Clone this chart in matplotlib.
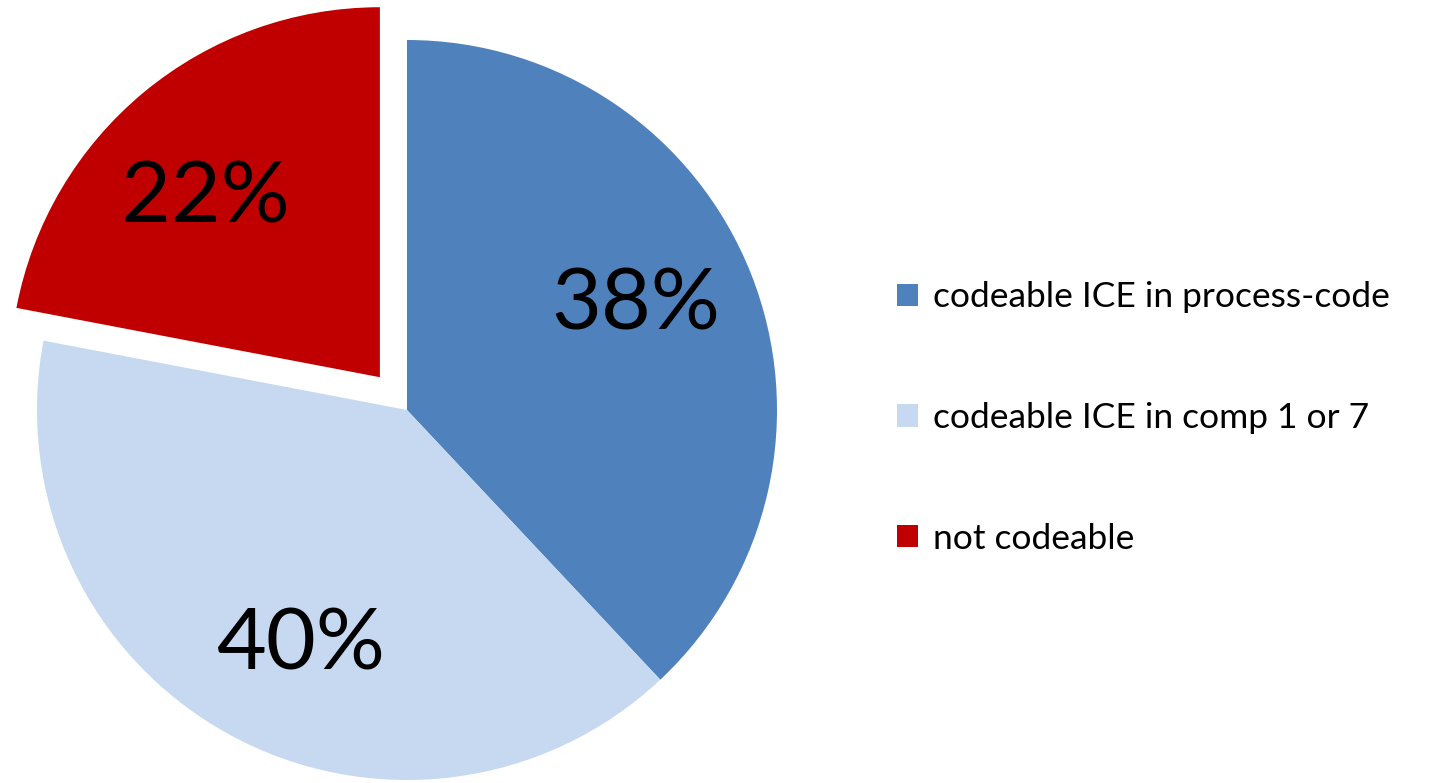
import math
import matplotlib
matplotlib.use("Agg")
import matplotlib.pyplot as plt
from matplotlib.patches import Patch

labels = ["codeable ICE in process-code", "codeable ICE in comp 1 or 7", "not codeable"]
values = [38, 40, 22]
colors = ["#4F81BD", "#C6D9F1", "#C00000"]
explode_frac = [0, 0, 0.115]

plt.rcParams['font.family'] = ['Lato', 'DejaVu Sans']

W, H = 1453, 783
R = 370
fig = plt.figure(figsize=(W / 100, H / 100), dpi=100)
ax = fig.add_axes([0, 0, 1, 1])

wedges, texts, autotexts = ax.pie(
    values, colors=colors, explode=[e * R for e in explode_frac],
    startangle=90, counterclock=False,
    center=(407, H - 410), radius=R, autopct='%d%%', pctdistance=0.69,
    textprops=dict(fontsize=62, color='black'),
    wedgeprops=dict(linewidth=0))

# nudge labels slightly counter-clockwise within each wedge (as in reference)
for w, t in zip(wedges, autotexts):
    th = math.radians((w.theta1 + w.theta2) / 2 + 4)
    cx, cy = w.center
    t.set_position((cx + 0.685 * R * math.cos(th),
                    cy + 0.685 * R * math.sin(th) - 5))
    t.set_verticalalignment('center')

ax.set_xlim(0, W)
ax.set_ylim(0, H)
ax.set_aspect('equal')
ax.axis('off')

handles = [Patch(facecolor=c, edgecolor='none') for c in colors]
ax.legend(handles, labels, loc='center left', bbox_to_anchor=(897, H - 418),
          bbox_transform=ax.transData, frameon=False, fontsize=25.5,
          handlelength=0.6, handleheight=0.6, handletextpad=0.43,
          labelspacing=2.5, borderpad=0, borderaxespad=0)

fig.savefig("out.png", dpi=100)
